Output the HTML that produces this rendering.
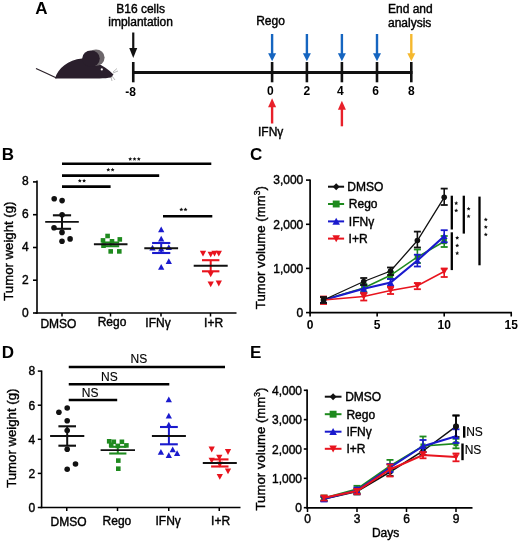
<!DOCTYPE html><html><head><meta charset="utf-8"><style>html,body{margin:0;padding:0;background:#fff;width:520px;height:542px;overflow:hidden}svg{display:block;font-family:"Liberation Sans", sans-serif;will-change:transform}</style></head><body>
<svg width="520" height="542" viewBox="0 0 520 542">
<rect width="520" height="542" fill="#fff"/>
<text x="35.3" y="13.9" font-size="17" text-anchor="start" font-weight="bold" fill="#000"  >A</text>
<g>
<path d="M36,68.5 Q46,73 56.5,78" stroke="#2a2028" stroke-width="1.3" fill="none"/>
<path d="M55,78.6 C58,68 68,60 82,58.5 C88,58 93,60 97,63 C103,66 108,69 113.5,74.5 L111,77.5 C105,78.6 95,78.6 85,78.6 Z" fill="#2a1f2c"/>
<ellipse cx="96" cy="57.6" rx="8.6" ry="8.2" fill="#6d676b"/>
<ellipse cx="91" cy="58.6" rx="8.8" ry="8.2" fill="#2a1f2c"/>
<circle cx="101.8" cy="69.4" r="1.1" fill="#fff"/>
<path d="M113,72 L117,68.5 M113,73 L118,71 M112,76 L115,80 M111,77 L112,81" stroke="#8a8a8a" stroke-width="0.6"/>
</g>
<text x="140.6" y="13.2" font-size="12" text-anchor="middle" font-weight="normal" fill="#000" stroke="#000" stroke-width="0.4" >B16 cells</text>
<text x="140.6" y="26" font-size="12" text-anchor="middle" font-weight="normal" fill="#000" stroke="#000" stroke-width="0.4" >implantation</text>
<line x1="133.25" y1="32.5" x2="133.25" y2="49" stroke="#111" stroke-width="2.2"/>
<polygon points="129.25,48 137.25,48 133.25,58" fill="#111"/>
<line x1="133.25" y1="72.5" x2="412.5" y2="72.5" stroke="#111" stroke-width="3"/>
<line x1="133.25" y1="62" x2="133.25" y2="82.3" stroke="#111" stroke-width="2.6"/>
<line x1="272.1" y1="62" x2="272.1" y2="82.3" stroke="#111" stroke-width="2.6"/>
<line x1="306.9" y1="62" x2="306.9" y2="82.3" stroke="#111" stroke-width="2.6"/>
<line x1="341.9" y1="62" x2="341.9" y2="82.3" stroke="#111" stroke-width="2.6"/>
<line x1="377.0" y1="62" x2="377.0" y2="82.3" stroke="#111" stroke-width="2.6"/>
<line x1="411.3" y1="62" x2="411.3" y2="82.3" stroke="#111" stroke-width="2.6"/>
<text x="130.6" y="96" font-size="12" text-anchor="middle" font-weight="bold" fill="#000"  >-8</text>
<text x="270.40000000000003" y="95.2" font-size="12" text-anchor="middle" font-weight="bold" fill="#000"  >0</text>
<text x="306.9" y="95.2" font-size="12" text-anchor="middle" font-weight="bold" fill="#000"  >2</text>
<text x="340.29999999999995" y="95.2" font-size="12" text-anchor="middle" font-weight="bold" fill="#000"  >4</text>
<text x="375.5" y="95.2" font-size="12" text-anchor="middle" font-weight="bold" fill="#000"  >6</text>
<text x="411.3" y="95.2" font-size="12" text-anchor="middle" font-weight="bold" fill="#000"  >8</text>
<text x="256.2" y="25.2" font-size="12" text-anchor="start" font-weight="normal" fill="#000" stroke="#000" stroke-width="0.4" >Rego</text>
<line x1="272.1" y1="34" x2="272.1" y2="54.2" stroke="#1565c0" stroke-width="2.4"/>
<polygon points="268.1,53.2 276.1,53.2 272.1,61.2" fill="#1565c0"/>
<line x1="306.9" y1="34" x2="306.9" y2="54.2" stroke="#1565c0" stroke-width="2.4"/>
<polygon points="302.9,53.2 310.9,53.2 306.9,61.2" fill="#1565c0"/>
<line x1="341.9" y1="34" x2="341.9" y2="54.2" stroke="#1565c0" stroke-width="2.4"/>
<polygon points="337.9,53.2 345.9,53.2 341.9,61.2" fill="#1565c0"/>
<line x1="377.0" y1="34" x2="377.0" y2="54.2" stroke="#1565c0" stroke-width="2.4"/>
<polygon points="373.0,53.2 381.0,53.2 377.0,61.2" fill="#1565c0"/>
<line x1="411.3" y1="34" x2="411.3" y2="54.2" stroke="#f5b82e" stroke-width="2.4"/>
<polygon points="407.3,53.2 415.3,53.2 411.3,61.2" fill="#f5b82e"/>
<text x="388" y="13.3" font-size="12" text-anchor="start" font-weight="normal" fill="#000" stroke="#000" stroke-width="0.4" >End and</text>
<text x="388" y="26.5" font-size="12" text-anchor="start" font-weight="normal" fill="#000" stroke="#000" stroke-width="0.4" >analysis</text>
<line x1="272.1" y1="106.3" x2="272.1" y2="123.5" stroke="#e8202a" stroke-width="2.4"/>
<polygon points="268.1,107.3 276.1,107.3 272.1,98.3" fill="#e8202a"/>
<line x1="341.9" y1="108.8" x2="341.9" y2="126.3" stroke="#e8202a" stroke-width="2.4"/>
<polygon points="337.9,109.8 345.9,109.8 341.9,100.8" fill="#e8202a"/>
<text x="258" y="135.8" font-size="12" text-anchor="start" font-weight="normal" fill="#000" stroke="#000" stroke-width="0.4" >IFN&#947;</text>
<text x="1.7" y="160" font-size="17" text-anchor="start" font-weight="bold" fill="#000"  >B</text>
<line x1="37" y1="180.5" x2="37" y2="313.7" stroke="#000" stroke-width="1.6"/>
<line x1="35.5" y1="313" x2="236.5" y2="313" stroke="#000" stroke-width="1.6"/>
<line x1="33" y1="181.9" x2="37" y2="181.9" stroke="#000" stroke-width="1.6"/>
<text x="28.8" y="185.3" font-size="12" text-anchor="end" font-weight="normal" fill="#000" stroke="#000" stroke-width="0.4" >8</text>
<line x1="33" y1="214.7" x2="37" y2="214.7" stroke="#000" stroke-width="1.6"/>
<text x="28.8" y="218.3" font-size="12" text-anchor="end" font-weight="normal" fill="#000" stroke="#000" stroke-width="0.4" >6</text>
<line x1="33" y1="247.5" x2="37" y2="247.5" stroke="#000" stroke-width="1.6"/>
<text x="28.8" y="251.3" font-size="12" text-anchor="end" font-weight="normal" fill="#000" stroke="#000" stroke-width="0.4" >4</text>
<line x1="33" y1="280.2" x2="37" y2="280.2" stroke="#000" stroke-width="1.6"/>
<text x="28.8" y="284.3" font-size="12" text-anchor="end" font-weight="normal" fill="#000" stroke="#000" stroke-width="0.4" >2</text>
<line x1="33" y1="313" x2="37" y2="313" stroke="#000" stroke-width="1.6"/>
<text x="28.8" y="317.3" font-size="12" text-anchor="end" font-weight="normal" fill="#000" stroke="#000" stroke-width="0.4" >0</text>
<line x1="62" y1="313" x2="62" y2="316.5" stroke="#000" stroke-width="1.5"/>
<line x1="110.5" y1="313" x2="110.5" y2="316.5" stroke="#000" stroke-width="1.5"/>
<line x1="161" y1="313" x2="161" y2="316.5" stroke="#000" stroke-width="1.5"/>
<line x1="210.5" y1="313" x2="210.5" y2="316.5" stroke="#000" stroke-width="1.5"/>
<text x="58.4" y="327.6" font-size="12" text-anchor="middle" font-weight="normal" fill="#000" stroke="#000" stroke-width="0.4" >DMSO</text>
<text x="112" y="326.3" font-size="12" text-anchor="middle" font-weight="normal" fill="#000" stroke="#000" stroke-width="0.4" >Rego</text>
<text x="158" y="326.9" font-size="12" text-anchor="middle" font-weight="normal" fill="#000" stroke="#000" stroke-width="0.4" >IFN&#947;</text>
<text x="213.6" y="327.1" font-size="12" text-anchor="middle" font-weight="normal" fill="#000" stroke="#000" stroke-width="0.4" >I+R</text>
<text transform="translate(12.9,251.1) rotate(-90)" font-size="13.2" text-anchor="middle" fill="#000" stroke="#000" stroke-width="0.4">Tumor weight (g)</text>
<line x1="62" y1="163.8" x2="211.3" y2="163.8" stroke="#000" stroke-width="2.6"/>
<line x1="62" y1="175.6" x2="159.2" y2="175.6" stroke="#000" stroke-width="2.6"/>
<line x1="62" y1="186.6" x2="110.6" y2="186.6" stroke="#000" stroke-width="2.6"/>
<line x1="163" y1="216.2" x2="212.3" y2="216.2" stroke="#000" stroke-width="2.6"/>
<polygon points="130.20,156.90 130.79,158.19 132.20,158.35 131.15,159.31 131.43,160.70 130.20,160.00 128.97,160.70 129.25,159.31 128.20,158.35 129.61,158.19" fill="#111"/>
<polygon points="134.50,156.90 135.09,158.19 136.50,158.35 135.45,159.31 135.73,160.70 134.50,160.00 133.27,160.70 133.55,159.31 132.50,158.35 133.91,158.19" fill="#111"/>
<polygon points="138.80,156.90 139.39,158.19 140.80,158.35 139.75,159.31 140.03,160.70 138.80,160.00 137.57,160.70 137.85,159.31 136.80,158.35 138.21,158.19" fill="#111"/>
<polygon points="108.30,167.70 108.89,168.99 110.30,169.15 109.25,170.11 109.53,171.50 108.30,170.80 107.07,171.50 107.35,170.11 106.30,169.15 107.71,168.99" fill="#111"/>
<polygon points="112.60,167.70 113.19,168.99 114.60,169.15 113.55,170.11 113.83,171.50 112.60,170.80 111.37,171.50 111.65,170.11 110.60,169.15 112.01,168.99" fill="#111"/>
<polygon points="79.80,178.70 80.39,179.99 81.80,180.15 80.75,181.11 81.03,182.50 79.80,181.80 78.57,182.50 78.85,181.11 77.80,180.15 79.21,179.99" fill="#111"/>
<polygon points="84.10,178.70 84.69,179.99 86.10,180.15 85.05,181.11 85.33,182.50 84.10,181.80 82.87,182.50 83.15,181.11 82.10,180.15 83.51,179.99" fill="#111"/>
<polygon points="181.30,207.50 181.89,208.79 183.30,208.95 182.25,209.91 182.53,211.30 181.30,210.60 180.07,211.30 180.35,209.91 179.30,208.95 180.71,208.79" fill="#111"/>
<polygon points="185.50,207.50 186.09,208.79 187.50,208.95 186.45,209.91 186.73,211.30 185.50,210.60 184.27,211.30 184.55,209.91 183.50,208.95 184.91,208.79" fill="#111"/>
<circle cx="54.2" cy="198.7" r="2.80" fill="#111"/>
<circle cx="62.1" cy="200.6" r="2.80" fill="#111"/>
<circle cx="62.1" cy="214.8" r="2.80" fill="#111"/>
<circle cx="54" cy="227.7" r="2.80" fill="#111"/>
<circle cx="62" cy="232.4" r="2.80" fill="#111"/>
<circle cx="62" cy="241.3" r="2.80" fill="#111"/>
<circle cx="70.1" cy="238.9" r="2.80" fill="#111"/>
<line x1="62" y1="215.3" x2="62" y2="228.8" stroke="#111" stroke-width="2.0"/>
<line x1="52.9" y1="215.3" x2="71.1" y2="215.3" stroke="#111" stroke-width="2.1"/>
<line x1="52.9" y1="228.8" x2="71.1" y2="228.8" stroke="#111" stroke-width="2.1"/>
<line x1="45.2" y1="221.9" x2="78.8" y2="221.9" stroke="#111" stroke-width="1.9"/>
<rect x="105.30" y="233.70" width="4.60" height="4.60" fill="#1e8a1e"/>
<rect x="100.70" y="238.10" width="4.60" height="4.60" fill="#1e8a1e"/>
<rect x="117.50" y="237.10" width="4.60" height="4.60" fill="#1e8a1e"/>
<rect x="109.70" y="239.00" width="4.60" height="4.60" fill="#1e8a1e"/>
<rect x="101.20" y="243.40" width="4.60" height="4.60" fill="#1e8a1e"/>
<rect x="108.40" y="249.10" width="4.60" height="4.60" fill="#1e8a1e"/>
<rect x="117.00" y="249.10" width="4.60" height="4.60" fill="#1e8a1e"/>
<line x1="110.7" y1="242.5" x2="110.7" y2="246.2" stroke="#1e8a1e" stroke-width="2.0"/>
<line x1="102.2" y1="242.5" x2="119.2" y2="242.5" stroke="#1e8a1e" stroke-width="2.1"/>
<line x1="102.2" y1="246.2" x2="119.2" y2="246.2" stroke="#1e8a1e" stroke-width="2.1"/>
<line x1="93.9" y1="244.2" x2="127.5" y2="244.2" stroke="#111" stroke-width="1.9"/>
<polygon points="158.06,232.29 164.34,232.29 161.20,226.51" fill="#1a1acd"/>
<polygon points="158.06,241.44 164.34,241.44 161.20,235.66" fill="#1a1acd"/>
<polygon points="149.36,250.59 155.64,250.59 152.50,244.81" fill="#1a1acd"/>
<polygon points="158.06,251.49 164.34,251.49 161.20,245.71" fill="#1a1acd"/>
<polygon points="165.66,250.09 171.94,250.09 168.80,244.31" fill="#1a1acd"/>
<polygon points="165.66,263.99 171.94,263.99 168.80,258.21" fill="#1a1acd"/>
<polygon points="158.06,269.79 164.34,269.79 161.20,264.01" fill="#1a1acd"/>
<line x1="161.2" y1="243" x2="161.2" y2="253" stroke="#1a1acd" stroke-width="2.0"/>
<line x1="152.1" y1="243" x2="170.29999999999998" y2="243" stroke="#1a1acd" stroke-width="2.1"/>
<line x1="152.1" y1="253" x2="170.29999999999998" y2="253" stroke="#1a1acd" stroke-width="2.1"/>
<line x1="144.29999999999998" y1="248.2" x2="178.1" y2="248.2" stroke="#111" stroke-width="1.9"/>
<polygon points="199.86,250.81 206.14,250.81 203.00,256.59" fill="#e8141e"/>
<polygon points="207.56,251.71 213.84,251.71 210.70,257.49" fill="#e8141e"/>
<polygon points="211.36,250.81 217.64,250.81 214.50,256.59" fill="#e8141e"/>
<polygon points="215.66,250.81 221.94,250.81 218.80,256.59" fill="#e8141e"/>
<polygon points="207.56,271.41 213.84,271.41 210.70,277.19" fill="#e8141e"/>
<polygon points="207.56,281.51 213.84,281.51 210.70,287.29" fill="#e8141e"/>
<polygon points="215.66,280.61 221.94,280.61 218.80,286.39" fill="#e8141e"/>
<line x1="210.7" y1="260.2" x2="210.7" y2="271.3" stroke="#e8141e" stroke-width="2.0"/>
<line x1="202.0" y1="260.2" x2="219.39999999999998" y2="260.2" stroke="#e8141e" stroke-width="2.1"/>
<line x1="202.0" y1="271.3" x2="219.39999999999998" y2="271.3" stroke="#e8141e" stroke-width="2.1"/>
<line x1="193.7" y1="265.7" x2="227.7" y2="265.7" stroke="#111" stroke-width="1.9"/>
<text x="250" y="160" font-size="17" text-anchor="start" font-weight="bold" fill="#000"  >C</text>
<line x1="310.1" y1="179.4" x2="310.1" y2="313.4" stroke="#000" stroke-width="1.7"/>
<line x1="309.3" y1="312.6" x2="512" y2="312.6" stroke="#000" stroke-width="1.7"/>
<line x1="306" y1="180.1" x2="310.1" y2="180.1" stroke="#000" stroke-width="1.6"/>
<text x="303.3" y="184.4" font-size="12" text-anchor="end" font-weight="normal" fill="#000" stroke="#000" stroke-width="0.4" >3,000</text>
<line x1="306" y1="224.3" x2="310.1" y2="224.3" stroke="#000" stroke-width="1.6"/>
<text x="303.3" y="228.60000000000002" font-size="12" text-anchor="end" font-weight="normal" fill="#000" stroke="#000" stroke-width="0.4" >2,000</text>
<line x1="306" y1="268.4" x2="310.1" y2="268.4" stroke="#000" stroke-width="1.6"/>
<text x="303.3" y="272.7" font-size="12" text-anchor="end" font-weight="normal" fill="#000" stroke="#000" stroke-width="0.4" >1,000</text>
<line x1="306" y1="312.6" x2="310.1" y2="312.6" stroke="#000" stroke-width="1.6"/>
<text x="303.3" y="316.90000000000003" font-size="12" text-anchor="end" font-weight="normal" fill="#000" stroke="#000" stroke-width="0.4" >0</text>
<line x1="310.1" y1="312.6" x2="310.1" y2="316.5" stroke="#000" stroke-width="1.6"/>
<text x="310.1" y="328.5" font-size="12" text-anchor="middle" font-weight="bold" fill="#000"  >0</text>
<line x1="377.15000000000003" y1="312.6" x2="377.15000000000003" y2="316.5" stroke="#000" stroke-width="1.6"/>
<text x="377.15000000000003" y="328.5" font-size="12" text-anchor="middle" font-weight="bold" fill="#000"  >5</text>
<line x1="444.20000000000005" y1="312.6" x2="444.20000000000005" y2="316.5" stroke="#000" stroke-width="1.6"/>
<text x="444.20000000000005" y="328.5" font-size="12" text-anchor="middle" font-weight="bold" fill="#000"  >10</text>
<line x1="511.25" y1="312.6" x2="511.25" y2="316.5" stroke="#000" stroke-width="1.6"/>
<text x="511.25" y="328.5" font-size="12" text-anchor="middle" font-weight="bold" fill="#000"  >15</text>
<text transform="translate(265.1,247.7) rotate(-90)" font-size="13.2" text-anchor="middle" fill="#000" stroke="#000" stroke-width="0.4">Tumor volume (mm<tspan font-size="8.5" dy="-5">3</tspan><tspan dy="5">)</tspan></text>
<line x1="328" y1="186.7" x2="344.1" y2="186.7" stroke="#111" stroke-width="2.0"/>
<polygon points="332.75,186.70 336.20,183.25 339.65,186.70 336.20,190.15" fill="#111"/>
<text x="347.3" y="191.0" font-size="12" text-anchor="start" font-weight="normal" fill="#000" stroke="#000" stroke-width="0.4" >DMSO</text>
<line x1="328" y1="204" x2="344.1" y2="204" stroke="#1e8a1e" stroke-width="2.0"/>
<rect x="332.75" y="200.55" width="6.90" height="6.90" fill="#1e8a1e"/>
<text x="348.8" y="208.3" font-size="12" text-anchor="start" font-weight="normal" fill="#000" stroke="#000" stroke-width="0.4" >Rego</text>
<line x1="328" y1="221.4" x2="344.1" y2="221.4" stroke="#1a1acd" stroke-width="2.0"/>
<polygon points="332.42,224.64 339.98,224.64 336.20,217.76" fill="#1a1acd"/>
<text x="348.8" y="225.70000000000002" font-size="12" text-anchor="start" font-weight="normal" fill="#000" stroke="#000" stroke-width="0.4" >IFN&#947;</text>
<line x1="328" y1="238.6" x2="344.1" y2="238.6" stroke="#e8141e" stroke-width="2.0"/>
<polygon points="332.42,235.36 339.98,235.36 336.20,242.24" fill="#e8141e"/>
<text x="348.6" y="242.9" font-size="12" text-anchor="start" font-weight="normal" fill="#000" stroke="#000" stroke-width="0.4" >I+R</text>
<polyline points="323.5,300.0 363.7,288.0 390.6,275.3 417.4,257.0 444.2,241.5" fill="none" stroke="#1e8a1e" stroke-width="1.5"/>
<line x1="323.51000000000005" y1="297" x2="323.51000000000005" y2="303" stroke="#1e8a1e" stroke-width="1.6"/>
<line x1="320.01000000000005" y1="297" x2="327.01000000000005" y2="297" stroke="#1e8a1e" stroke-width="1.8"/>
<line x1="320.01000000000005" y1="303" x2="327.01000000000005" y2="303" stroke="#1e8a1e" stroke-width="1.8"/>
<rect x="320.87" y="297.36" width="5.29" height="5.29" fill="#1e8a1e"/>
<line x1="363.74" y1="284" x2="363.74" y2="292" stroke="#1e8a1e" stroke-width="1.6"/>
<line x1="360.24" y1="284" x2="367.24" y2="284" stroke="#1e8a1e" stroke-width="1.8"/>
<line x1="360.24" y1="292" x2="367.24" y2="292" stroke="#1e8a1e" stroke-width="1.8"/>
<rect x="361.10" y="285.36" width="5.29" height="5.29" fill="#1e8a1e"/>
<line x1="390.56000000000006" y1="272" x2="390.56000000000006" y2="279" stroke="#1e8a1e" stroke-width="1.6"/>
<line x1="387.06000000000006" y1="272" x2="394.06000000000006" y2="272" stroke="#1e8a1e" stroke-width="1.8"/>
<line x1="387.06000000000006" y1="279" x2="394.06000000000006" y2="279" stroke="#1e8a1e" stroke-width="1.8"/>
<rect x="387.92" y="272.66" width="5.29" height="5.29" fill="#1e8a1e"/>
<line x1="417.38" y1="249.5" x2="417.38" y2="263" stroke="#1e8a1e" stroke-width="1.6"/>
<line x1="413.88" y1="249.5" x2="420.88" y2="249.5" stroke="#1e8a1e" stroke-width="1.8"/>
<line x1="413.88" y1="263" x2="420.88" y2="263" stroke="#1e8a1e" stroke-width="1.8"/>
<rect x="414.74" y="254.35" width="5.29" height="5.29" fill="#1e8a1e"/>
<line x1="444.20000000000005" y1="236" x2="444.20000000000005" y2="247" stroke="#1e8a1e" stroke-width="1.6"/>
<line x1="440.70000000000005" y1="236" x2="447.70000000000005" y2="236" stroke="#1e8a1e" stroke-width="1.8"/>
<line x1="440.70000000000005" y1="247" x2="447.70000000000005" y2="247" stroke="#1e8a1e" stroke-width="1.8"/>
<rect x="441.56" y="238.85" width="5.29" height="5.29" fill="#1e8a1e"/>
<polyline points="323.5,300.0 363.7,288.8 390.6,282.5 417.4,260.5 444.2,236.2" fill="none" stroke="#1a1acd" stroke-width="2.2"/>
<line x1="323.51000000000005" y1="297" x2="323.51000000000005" y2="303" stroke="#1a1acd" stroke-width="1.6"/>
<line x1="320.01000000000005" y1="297" x2="327.01000000000005" y2="297" stroke="#1a1acd" stroke-width="1.8"/>
<line x1="320.01000000000005" y1="303" x2="327.01000000000005" y2="303" stroke="#1a1acd" stroke-width="1.8"/>
<polygon points="320.15,302.88 326.87,302.88 323.51,296.72" fill="#1a1acd"/>
<line x1="363.74" y1="285" x2="363.74" y2="293" stroke="#1a1acd" stroke-width="1.6"/>
<line x1="360.24" y1="285" x2="367.24" y2="285" stroke="#1a1acd" stroke-width="1.8"/>
<line x1="360.24" y1="293" x2="367.24" y2="293" stroke="#1a1acd" stroke-width="1.8"/>
<polygon points="360.38,291.68 367.10,291.68 363.74,285.52" fill="#1a1acd"/>
<line x1="390.56000000000006" y1="279" x2="390.56000000000006" y2="286" stroke="#1a1acd" stroke-width="1.6"/>
<line x1="387.06000000000006" y1="279" x2="394.06000000000006" y2="279" stroke="#1a1acd" stroke-width="1.8"/>
<line x1="387.06000000000006" y1="286" x2="394.06000000000006" y2="286" stroke="#1a1acd" stroke-width="1.8"/>
<polygon points="387.20,285.38 393.92,285.38 390.56,279.22" fill="#1a1acd"/>
<line x1="417.38" y1="254.7" x2="417.38" y2="266.5" stroke="#1a1acd" stroke-width="1.6"/>
<line x1="413.88" y1="254.7" x2="420.88" y2="254.7" stroke="#1a1acd" stroke-width="1.8"/>
<line x1="413.88" y1="266.5" x2="420.88" y2="266.5" stroke="#1a1acd" stroke-width="1.8"/>
<polygon points="414.02,263.38 420.74,263.38 417.38,257.22" fill="#1a1acd"/>
<line x1="444.20000000000005" y1="230.2" x2="444.20000000000005" y2="242.3" stroke="#1a1acd" stroke-width="1.6"/>
<line x1="440.70000000000005" y1="230.2" x2="447.70000000000005" y2="230.2" stroke="#1a1acd" stroke-width="1.8"/>
<line x1="440.70000000000005" y1="242.3" x2="447.70000000000005" y2="242.3" stroke="#1a1acd" stroke-width="1.8"/>
<polygon points="440.84,239.08 447.56,239.08 444.20,232.92" fill="#1a1acd"/>
<polyline points="323.5,300.0 363.7,296.6 390.6,290.5 417.4,285.7 444.2,271.5" fill="none" stroke="#e8141e" stroke-width="1.5"/>
<line x1="323.51000000000005" y1="296.5" x2="323.51000000000005" y2="304" stroke="#e8141e" stroke-width="1.6"/>
<line x1="320.01000000000005" y1="296.5" x2="327.01000000000005" y2="296.5" stroke="#e8141e" stroke-width="1.8"/>
<line x1="320.01000000000005" y1="304" x2="327.01000000000005" y2="304" stroke="#e8141e" stroke-width="1.8"/>
<polygon points="320.15,297.12 326.87,297.12 323.51,303.28" fill="#e8141e"/>
<line x1="363.74" y1="293" x2="363.74" y2="300.5" stroke="#e8141e" stroke-width="1.6"/>
<line x1="360.24" y1="293" x2="367.24" y2="293" stroke="#e8141e" stroke-width="1.8"/>
<line x1="360.24" y1="300.5" x2="367.24" y2="300.5" stroke="#e8141e" stroke-width="1.8"/>
<polygon points="360.38,293.72 367.10,293.72 363.74,299.88" fill="#e8141e"/>
<line x1="390.56000000000006" y1="287" x2="390.56000000000006" y2="294" stroke="#e8141e" stroke-width="1.6"/>
<line x1="387.06000000000006" y1="287" x2="394.06000000000006" y2="287" stroke="#e8141e" stroke-width="1.8"/>
<line x1="387.06000000000006" y1="294" x2="394.06000000000006" y2="294" stroke="#e8141e" stroke-width="1.8"/>
<polygon points="387.20,287.62 393.92,287.62 390.56,293.78" fill="#e8141e"/>
<line x1="417.38" y1="283" x2="417.38" y2="289.2" stroke="#e8141e" stroke-width="1.6"/>
<line x1="413.88" y1="283" x2="420.88" y2="283" stroke="#e8141e" stroke-width="1.8"/>
<line x1="413.88" y1="289.2" x2="420.88" y2="289.2" stroke="#e8141e" stroke-width="1.8"/>
<polygon points="414.02,282.82 420.74,282.82 417.38,288.98" fill="#e8141e"/>
<line x1="444.20000000000005" y1="268.5" x2="444.20000000000005" y2="277" stroke="#e8141e" stroke-width="1.6"/>
<line x1="440.70000000000005" y1="268.5" x2="447.70000000000005" y2="268.5" stroke="#e8141e" stroke-width="1.8"/>
<line x1="440.70000000000005" y1="277" x2="447.70000000000005" y2="277" stroke="#e8141e" stroke-width="1.8"/>
<polygon points="440.84,268.62 447.56,268.62 444.20,274.78" fill="#e8141e"/>
<polyline points="323.5,300.0 363.7,281.5 390.6,271.0 417.4,240.5 444.2,197.3" fill="none" stroke="#111" stroke-width="1.3"/>
<line x1="323.51000000000005" y1="297" x2="323.51000000000005" y2="303" stroke="#111" stroke-width="1.6"/>
<line x1="320.01000000000005" y1="297" x2="327.01000000000005" y2="297" stroke="#111" stroke-width="1.8"/>
<line x1="320.01000000000005" y1="303" x2="327.01000000000005" y2="303" stroke="#111" stroke-width="1.8"/>
<circle cx="323.51000000000005" cy="300" r="2.80" fill="#111"/>
<line x1="363.74" y1="278" x2="363.74" y2="285" stroke="#111" stroke-width="1.6"/>
<line x1="360.24" y1="278" x2="367.24" y2="278" stroke="#111" stroke-width="1.8"/>
<line x1="360.24" y1="285" x2="367.24" y2="285" stroke="#111" stroke-width="1.8"/>
<circle cx="363.74" cy="281.5" r="2.80" fill="#111"/>
<line x1="390.56000000000006" y1="267.5" x2="390.56000000000006" y2="275" stroke="#111" stroke-width="1.6"/>
<line x1="387.06000000000006" y1="267.5" x2="394.06000000000006" y2="267.5" stroke="#111" stroke-width="1.8"/>
<line x1="387.06000000000006" y1="275" x2="394.06000000000006" y2="275" stroke="#111" stroke-width="1.8"/>
<circle cx="390.56000000000006" cy="271" r="2.80" fill="#111"/>
<line x1="417.38" y1="231.6" x2="417.38" y2="247.5" stroke="#111" stroke-width="1.6"/>
<line x1="413.88" y1="231.6" x2="420.88" y2="231.6" stroke="#111" stroke-width="1.8"/>
<line x1="413.88" y1="247.5" x2="420.88" y2="247.5" stroke="#111" stroke-width="1.8"/>
<circle cx="417.38" cy="240.5" r="2.80" fill="#111"/>
<line x1="444.20000000000005" y1="188.6" x2="444.20000000000005" y2="205" stroke="#111" stroke-width="1.6"/>
<line x1="440.70000000000005" y1="188.6" x2="447.70000000000005" y2="188.6" stroke="#111" stroke-width="1.8"/>
<line x1="440.70000000000005" y1="205" x2="447.70000000000005" y2="205" stroke="#111" stroke-width="1.8"/>
<circle cx="444.20000000000005" cy="197.3" r="2.80" fill="#111"/>
<line x1="451.8" y1="195.7" x2="451.8" y2="229.5" stroke="#000" stroke-width="2.3"/>
<line x1="451.8" y1="232.3" x2="451.8" y2="270.1" stroke="#000" stroke-width="2.3"/>
<line x1="463.8" y1="195.7" x2="463.8" y2="233.6" stroke="#000" stroke-width="2.3"/>
<line x1="479.5" y1="196.6" x2="479.5" y2="265.3" stroke="#000" stroke-width="2.3"/>
<polygon points="456.20,201.10 456.79,202.39 458.20,202.55 457.15,203.51 457.43,204.90 456.20,204.20 454.97,204.90 455.25,203.51 454.20,202.55 455.61,202.39" fill="#111"/>
<polygon points="456.20,208.50 456.79,209.79 458.20,209.95 457.15,210.91 457.43,212.30 456.20,211.60 454.97,212.30 455.25,210.91 454.20,209.95 455.61,209.79" fill="#111"/>
<polygon points="457.20,235.80 457.79,237.09 459.20,237.25 458.15,238.21 458.43,239.60 457.20,238.90 455.97,239.60 456.25,238.21 455.20,237.25 456.61,237.09" fill="#111"/>
<polygon points="457.20,243.50 457.79,244.79 459.20,244.95 458.15,245.91 458.43,247.30 457.20,246.60 455.97,247.30 456.25,245.91 455.20,244.95 456.61,244.79" fill="#111"/>
<polygon points="457.20,251.10 457.79,252.39 459.20,252.55 458.15,253.51 458.43,254.90 457.20,254.20 455.97,254.90 456.25,253.51 455.20,252.55 456.61,252.39" fill="#111"/>
<polygon points="468.60,206.70 469.19,207.99 470.60,208.15 469.55,209.11 469.83,210.50 468.60,209.80 467.37,210.50 467.65,209.11 466.60,208.15 468.01,207.99" fill="#111"/>
<polygon points="468.60,214.20 469.19,215.49 470.60,215.65 469.55,216.61 469.83,218.00 468.60,217.30 467.37,218.00 467.65,216.61 466.60,215.65 468.01,215.49" fill="#111"/>
<polygon points="485.80,217.50 486.39,218.79 487.80,218.95 486.75,219.91 487.03,221.30 485.80,220.60 484.57,221.30 484.85,219.91 483.80,218.95 485.21,218.79" fill="#111"/>
<polygon points="485.80,225.00 486.39,226.29 487.80,226.45 486.75,227.41 487.03,228.80 485.80,228.10 484.57,228.80 484.85,227.41 483.80,226.45 485.21,226.29" fill="#111"/>
<polygon points="485.80,232.50 486.39,233.79 487.80,233.95 486.75,234.91 487.03,236.30 485.80,235.60 484.57,236.30 484.85,234.91 483.80,233.95 485.21,233.79" fill="#111"/>
<text x="1.7" y="357.6" font-size="17" text-anchor="start" font-weight="bold" fill="#000"  >D</text>
<line x1="41.6" y1="370.5" x2="41.6" y2="508.2" stroke="#000" stroke-width="1.6"/>
<line x1="40.5" y1="507.5" x2="240.5" y2="507.5" stroke="#000" stroke-width="1.6"/>
<line x1="37.8" y1="371.1" x2="41.6" y2="371.1" stroke="#000" stroke-width="1.5"/>
<text x="35.2" y="375.40000000000003" font-size="12" text-anchor="end" font-weight="normal" fill="#000" stroke="#000" stroke-width="0.4" >8</text>
<line x1="37.8" y1="405.2" x2="41.6" y2="405.2" stroke="#000" stroke-width="1.5"/>
<text x="35.2" y="409.5" font-size="12" text-anchor="end" font-weight="normal" fill="#000" stroke="#000" stroke-width="0.4" >6</text>
<line x1="37.8" y1="439.3" x2="41.6" y2="439.3" stroke="#000" stroke-width="1.5"/>
<text x="35.2" y="443.6" font-size="12" text-anchor="end" font-weight="normal" fill="#000" stroke="#000" stroke-width="0.4" >4</text>
<line x1="37.8" y1="473.4" x2="41.6" y2="473.4" stroke="#000" stroke-width="1.5"/>
<text x="35.2" y="477.7" font-size="12" text-anchor="end" font-weight="normal" fill="#000" stroke="#000" stroke-width="0.4" >2</text>
<line x1="37.8" y1="507.5" x2="41.6" y2="507.5" stroke="#000" stroke-width="1.5"/>
<text x="35.2" y="511.8" font-size="12" text-anchor="end" font-weight="normal" fill="#000" stroke="#000" stroke-width="0.4" >0</text>
<line x1="66.75" y1="507.5" x2="66.75" y2="511" stroke="#000" stroke-width="1.5"/>
<line x1="117.5" y1="507.5" x2="117.5" y2="511" stroke="#000" stroke-width="1.5"/>
<line x1="168.75" y1="507.5" x2="168.75" y2="511" stroke="#000" stroke-width="1.5"/>
<line x1="219.25" y1="507.5" x2="219.25" y2="511" stroke="#000" stroke-width="1.5"/>
<text x="68.5" y="526.1" font-size="12" text-anchor="middle" font-weight="normal" fill="#000" stroke="#000" stroke-width="0.4" >DMSO</text>
<text x="116.9" y="524.8" font-size="12" text-anchor="middle" font-weight="normal" fill="#000" stroke="#000" stroke-width="0.4" >Rego</text>
<text x="168.2" y="524.8" font-size="12" text-anchor="middle" font-weight="normal" fill="#000" stroke="#000" stroke-width="0.4" >IFN&#947;</text>
<text x="220.6" y="524.8" font-size="12" text-anchor="middle" font-weight="normal" fill="#000" stroke="#000" stroke-width="0.4" >I+R</text>
<text transform="translate(15.7,438.2) rotate(-90)" font-size="13.2" text-anchor="middle" fill="#000" stroke="#000" stroke-width="0.4">Tumor weight (g)</text>
<line x1="68.75" y1="367" x2="225" y2="367" stroke="#000" stroke-width="2.6"/>
<line x1="68.75" y1="384.3" x2="169.3" y2="384.3" stroke="#000" stroke-width="2.6"/>
<line x1="68.75" y1="400" x2="117.2" y2="400" stroke="#000" stroke-width="2.6"/>
<text x="138.9" y="363.1" font-size="12" text-anchor="middle" font-weight="normal" fill="#000" stroke="#000" stroke-width="0.15">NS</text>
<text x="109.4" y="380.8" font-size="12" text-anchor="middle" font-weight="normal" fill="#000" stroke="#000" stroke-width="0.15">NS</text>
<text x="90.1" y="397" font-size="12" text-anchor="middle" font-weight="normal" fill="#000" stroke="#000" stroke-width="0.15">NS</text>
<circle cx="67.2" cy="408" r="2.80" fill="#111"/>
<circle cx="58.9" cy="412.2" r="2.80" fill="#111"/>
<circle cx="67.2" cy="420.8" r="2.80" fill="#111"/>
<circle cx="67.2" cy="430.5" r="2.80" fill="#111"/>
<circle cx="67.2" cy="449.2" r="2.80" fill="#111"/>
<circle cx="75.5" cy="464" r="2.80" fill="#111"/>
<circle cx="67.2" cy="469.25" r="2.80" fill="#111"/>
<line x1="67.2" y1="426.3" x2="67.2" y2="445.7" stroke="#111" stroke-width="2.0"/>
<line x1="58.400000000000006" y1="426.3" x2="76.0" y2="426.3" stroke="#111" stroke-width="2.1"/>
<line x1="58.400000000000006" y1="445.7" x2="76.0" y2="445.7" stroke="#111" stroke-width="2.1"/>
<line x1="50.1" y1="436" x2="84.30000000000001" y2="436" stroke="#111" stroke-width="1.9"/>
<rect x="106.90" y="439.00" width="4.60" height="4.60" fill="#1e8a1e"/>
<rect x="111.50" y="439.50" width="4.60" height="4.60" fill="#1e8a1e"/>
<rect x="119.60" y="439.50" width="4.60" height="4.60" fill="#1e8a1e"/>
<rect x="108.90" y="442.50" width="4.60" height="4.60" fill="#1e8a1e"/>
<rect x="115.50" y="443.60" width="4.60" height="4.60" fill="#1e8a1e"/>
<rect x="124.10" y="443.10" width="4.60" height="4.60" fill="#1e8a1e"/>
<rect x="116.00" y="458.30" width="4.60" height="4.60" fill="#1e8a1e"/>
<rect x="116.00" y="466.40" width="4.60" height="4.60" fill="#1e8a1e"/>
<line x1="117.8" y1="446.8" x2="117.8" y2="453.5" stroke="#1e8a1e" stroke-width="2.0"/>
<line x1="109.2" y1="446.8" x2="126.39999999999999" y2="446.8" stroke="#1e8a1e" stroke-width="2.1"/>
<line x1="109.2" y1="453.5" x2="126.39999999999999" y2="453.5" stroke="#1e8a1e" stroke-width="2.1"/>
<line x1="100.6" y1="450.1" x2="135.0" y2="450.1" stroke="#111" stroke-width="1.9"/>
<polygon points="165.66,402.19 171.94,402.19 168.80,396.41" fill="#1a1acd"/>
<polygon points="165.66,418.59 171.94,418.59 168.80,412.81" fill="#1a1acd"/>
<polygon points="165.66,427.59 171.94,427.59 168.80,421.81" fill="#1a1acd"/>
<polygon points="157.76,454.69 164.04,454.69 160.90,448.91" fill="#1a1acd"/>
<polygon points="169.56,452.29 175.84,452.29 172.70,446.51" fill="#1a1acd"/>
<polygon points="173.96,455.99 180.24,455.99 177.10,450.21" fill="#1a1acd"/>
<polygon points="165.66,458.09 171.94,458.09 168.80,452.31" fill="#1a1acd"/>
<line x1="168.9" y1="427" x2="168.9" y2="444.3" stroke="#1a1acd" stroke-width="2.0"/>
<line x1="160.0" y1="427" x2="177.8" y2="427" stroke="#1a1acd" stroke-width="2.1"/>
<line x1="160.0" y1="444.3" x2="177.8" y2="444.3" stroke="#1a1acd" stroke-width="2.1"/>
<line x1="151.9" y1="436" x2="185.9" y2="436" stroke="#111" stroke-width="1.9"/>
<polygon points="208.56,446.61 214.84,446.61 211.70,452.39" fill="#e8141e"/>
<polygon points="224.86,449.11 231.14,449.11 228.00,454.89" fill="#e8141e"/>
<polygon points="216.16,454.71 222.44,454.71 219.30,460.49" fill="#e8141e"/>
<polygon points="208.56,457.71 214.84,457.71 211.70,463.49" fill="#e8141e"/>
<polygon points="216.66,461.81 222.94,461.81 219.80,467.59" fill="#e8141e"/>
<polygon points="224.86,468.41 231.14,468.41 228.00,474.19" fill="#e8141e"/>
<polygon points="216.66,474.01 222.94,474.01 219.80,479.79" fill="#e8141e"/>
<line x1="219.8" y1="459.4" x2="219.8" y2="466.5" stroke="#e8141e" stroke-width="2.0"/>
<line x1="211.10000000000002" y1="459.4" x2="228.5" y2="459.4" stroke="#e8141e" stroke-width="2.1"/>
<line x1="211.10000000000002" y1="466.5" x2="228.5" y2="466.5" stroke="#e8141e" stroke-width="2.1"/>
<line x1="202.8" y1="463" x2="236.8" y2="463" stroke="#111" stroke-width="1.9"/>
<text x="250.1" y="357.6" font-size="17" text-anchor="start" font-weight="bold" fill="#000"  >E</text>
<line x1="307.1" y1="389.6" x2="307.1" y2="508.5" stroke="#000" stroke-width="1.7"/>
<line x1="306.3" y1="507.8" x2="472.5" y2="507.8" stroke="#000" stroke-width="1.7"/>
<line x1="303.8" y1="390.3" x2="307.1" y2="390.3" stroke="#000" stroke-width="1.6"/>
<text x="302" y="394.90000000000003" font-size="12" text-anchor="end" font-weight="normal" fill="#000" stroke="#000" stroke-width="0.4" >4,000</text>
<line x1="303.8" y1="419.65" x2="307.1" y2="419.65" stroke="#000" stroke-width="1.6"/>
<text x="302" y="424.25" font-size="12" text-anchor="end" font-weight="normal" fill="#000" stroke="#000" stroke-width="0.4" >3,000</text>
<line x1="303.8" y1="449" x2="307.1" y2="449" stroke="#000" stroke-width="1.6"/>
<text x="302" y="453.6" font-size="12" text-anchor="end" font-weight="normal" fill="#000" stroke="#000" stroke-width="0.4" >2,000</text>
<line x1="303.8" y1="478.35" x2="307.1" y2="478.35" stroke="#000" stroke-width="1.6"/>
<text x="302" y="482.95000000000005" font-size="12" text-anchor="end" font-weight="normal" fill="#000" stroke="#000" stroke-width="0.4" >1,000</text>
<line x1="303.8" y1="507.7" x2="307.1" y2="507.7" stroke="#000" stroke-width="1.6"/>
<text x="302" y="512.3" font-size="12" text-anchor="end" font-weight="normal" fill="#000" stroke="#000" stroke-width="0.4" >0</text>
<line x1="307.5" y1="508" x2="307.5" y2="512" stroke="#000" stroke-width="1.5"/>
<text x="307.5" y="522.6" font-size="12" text-anchor="middle" font-weight="normal" fill="#000" stroke="#000" stroke-width="0.4" >0</text>
<line x1="357.0" y1="508" x2="357.0" y2="512" stroke="#000" stroke-width="1.5"/>
<text x="357.0" y="522.6" font-size="12" text-anchor="middle" font-weight="normal" fill="#000" stroke="#000" stroke-width="0.4" >3</text>
<line x1="406.5" y1="508" x2="406.5" y2="512" stroke="#000" stroke-width="1.5"/>
<text x="406.5" y="522.6" font-size="12" text-anchor="middle" font-weight="normal" fill="#000" stroke="#000" stroke-width="0.4" >6</text>
<line x1="456.0" y1="508" x2="456.0" y2="512" stroke="#000" stroke-width="1.5"/>
<text x="456.0" y="522.6" font-size="12" text-anchor="middle" font-weight="normal" fill="#000" stroke="#000" stroke-width="0.4" >9</text>
<text x="385.6" y="537" font-size="12" text-anchor="middle" font-weight="normal" fill="#000" stroke="#000" stroke-width="0.4" >Days</text>
<text transform="translate(265.1,449) rotate(-90)" font-size="13.2" text-anchor="middle" fill="#000" stroke="#000" stroke-width="0.4">Tumor volume (mm<tspan font-size="8.5" dy="-5">3</tspan><tspan dy="5">)</tspan></text>
<line x1="324.8" y1="396.7" x2="341.5" y2="396.7" stroke="#111" stroke-width="2.0"/>
<polygon points="329.65,396.70 333.10,393.25 336.55,396.70 333.10,400.15" fill="#111"/>
<text x="345.2" y="401.09999999999997" font-size="12" text-anchor="start" font-weight="normal" fill="#000" stroke="#000" stroke-width="0.4" >DMSO</text>
<line x1="324.8" y1="414.2" x2="341.5" y2="414.2" stroke="#1e8a1e" stroke-width="2.0"/>
<rect x="329.65" y="410.75" width="6.90" height="6.90" fill="#1e8a1e"/>
<text x="346.4" y="418.59999999999997" font-size="12" text-anchor="start" font-weight="normal" fill="#000" stroke="#000" stroke-width="0.4" >Rego</text>
<line x1="324.8" y1="431.7" x2="341.5" y2="431.7" stroke="#1a1acd" stroke-width="2.0"/>
<polygon points="329.32,434.94 336.88,434.94 333.10,428.06" fill="#1a1acd"/>
<text x="346.4" y="436.09999999999997" font-size="12" text-anchor="start" font-weight="normal" fill="#000" stroke="#000" stroke-width="0.4" >IFN&#947;</text>
<line x1="324.8" y1="448.8" x2="341.5" y2="448.8" stroke="#e8141e" stroke-width="2.0"/>
<polygon points="329.32,445.56 336.88,445.56 333.10,452.44" fill="#e8141e"/>
<text x="346.4" y="453.2" font-size="12" text-anchor="start" font-weight="normal" fill="#000" stroke="#000" stroke-width="0.4" >I+R</text>
<polyline points="324.0,499.0 357.0,491.5 390.0,472.0 423.0,451.0 456.0,426.4" fill="none" stroke="#111" stroke-width="1.5"/>
<line x1="324.0" y1="497" x2="324.0" y2="501" stroke="#111" stroke-width="1.6"/>
<line x1="320.5" y1="497" x2="327.5" y2="497" stroke="#111" stroke-width="1.8"/>
<line x1="320.5" y1="501" x2="327.5" y2="501" stroke="#111" stroke-width="1.8"/>
<circle cx="324.0" cy="499" r="2.80" fill="#111"/>
<line x1="357.0" y1="488.5" x2="357.0" y2="494.5" stroke="#111" stroke-width="1.6"/>
<line x1="353.5" y1="488.5" x2="360.5" y2="488.5" stroke="#111" stroke-width="1.8"/>
<line x1="353.5" y1="494.5" x2="360.5" y2="494.5" stroke="#111" stroke-width="1.8"/>
<circle cx="357.0" cy="491.5" r="2.80" fill="#111"/>
<line x1="390.0" y1="469" x2="390.0" y2="476" stroke="#111" stroke-width="1.6"/>
<line x1="386.5" y1="469" x2="393.5" y2="469" stroke="#111" stroke-width="1.8"/>
<line x1="386.5" y1="476" x2="393.5" y2="476" stroke="#111" stroke-width="1.8"/>
<circle cx="390.0" cy="472" r="2.80" fill="#111"/>
<line x1="423.0" y1="447.5" x2="423.0" y2="455" stroke="#111" stroke-width="1.6"/>
<line x1="419.5" y1="447.5" x2="426.5" y2="447.5" stroke="#111" stroke-width="1.8"/>
<line x1="419.5" y1="455" x2="426.5" y2="455" stroke="#111" stroke-width="1.8"/>
<circle cx="423.0" cy="451" r="2.80" fill="#111"/>
<line x1="456.0" y1="415.5" x2="456.0" y2="437" stroke="#111" stroke-width="1.6"/>
<line x1="452.5" y1="415.5" x2="459.5" y2="415.5" stroke="#111" stroke-width="1.8"/>
<line x1="452.5" y1="437" x2="459.5" y2="437" stroke="#111" stroke-width="1.8"/>
<circle cx="456.0" cy="426.4" r="2.80" fill="#111"/>
<polyline points="324.0,498.0 357.0,489.0 390.0,466.0 423.0,446.0 456.0,443.7" fill="none" stroke="#1e8a1e" stroke-width="1.7"/>
<line x1="324.0" y1="495.5" x2="324.0" y2="500.5" stroke="#1e8a1e" stroke-width="1.6"/>
<line x1="320.5" y1="495.5" x2="327.5" y2="495.5" stroke="#1e8a1e" stroke-width="1.8"/>
<line x1="320.5" y1="500.5" x2="327.5" y2="500.5" stroke="#1e8a1e" stroke-width="1.8"/>
<rect x="321.47" y="495.47" width="5.06" height="5.06" fill="#1e8a1e"/>
<line x1="357.0" y1="485.8" x2="357.0" y2="493" stroke="#1e8a1e" stroke-width="1.6"/>
<line x1="353.5" y1="485.8" x2="360.5" y2="485.8" stroke="#1e8a1e" stroke-width="1.8"/>
<line x1="353.5" y1="493" x2="360.5" y2="493" stroke="#1e8a1e" stroke-width="1.8"/>
<rect x="354.47" y="486.47" width="5.06" height="5.06" fill="#1e8a1e"/>
<line x1="390.0" y1="459.9" x2="390.0" y2="471" stroke="#1e8a1e" stroke-width="1.6"/>
<line x1="386.5" y1="459.9" x2="393.5" y2="459.9" stroke="#1e8a1e" stroke-width="1.8"/>
<line x1="386.5" y1="471" x2="393.5" y2="471" stroke="#1e8a1e" stroke-width="1.8"/>
<rect x="387.47" y="463.47" width="5.06" height="5.06" fill="#1e8a1e"/>
<line x1="423.0" y1="436.5" x2="423.0" y2="452" stroke="#1e8a1e" stroke-width="1.6"/>
<line x1="419.5" y1="436.5" x2="426.5" y2="436.5" stroke="#1e8a1e" stroke-width="1.8"/>
<line x1="419.5" y1="452" x2="426.5" y2="452" stroke="#1e8a1e" stroke-width="1.8"/>
<rect x="420.47" y="443.47" width="5.06" height="5.06" fill="#1e8a1e"/>
<line x1="456.0" y1="438.8" x2="456.0" y2="448.3" stroke="#1e8a1e" stroke-width="1.6"/>
<line x1="452.5" y1="438.8" x2="459.5" y2="438.8" stroke="#1e8a1e" stroke-width="1.8"/>
<line x1="452.5" y1="448.3" x2="459.5" y2="448.3" stroke="#1e8a1e" stroke-width="1.8"/>
<rect x="453.47" y="441.17" width="5.06" height="5.06" fill="#1e8a1e"/>
<polyline points="324.0,498.8 357.0,490.5 390.0,467.5 423.0,446.2 456.0,436.2" fill="none" stroke="#1a1acd" stroke-width="2.0"/>
<line x1="324.0" y1="496.5" x2="324.0" y2="501.5" stroke="#1a1acd" stroke-width="1.6"/>
<line x1="320.5" y1="496.5" x2="327.5" y2="496.5" stroke="#1a1acd" stroke-width="1.8"/>
<line x1="320.5" y1="501.5" x2="327.5" y2="501.5" stroke="#1a1acd" stroke-width="1.8"/>
<polygon points="320.78,501.56 327.22,501.56 324.00,495.64" fill="#1a1acd"/>
<line x1="357.0" y1="487.5" x2="357.0" y2="494" stroke="#1a1acd" stroke-width="1.6"/>
<line x1="353.5" y1="487.5" x2="360.5" y2="487.5" stroke="#1a1acd" stroke-width="1.8"/>
<line x1="353.5" y1="494" x2="360.5" y2="494" stroke="#1a1acd" stroke-width="1.8"/>
<polygon points="353.78,493.26 360.22,493.26 357.00,487.34" fill="#1a1acd"/>
<line x1="390.0" y1="464" x2="390.0" y2="472" stroke="#1a1acd" stroke-width="1.6"/>
<line x1="386.5" y1="464" x2="393.5" y2="464" stroke="#1a1acd" stroke-width="1.8"/>
<line x1="386.5" y1="472" x2="393.5" y2="472" stroke="#1a1acd" stroke-width="1.8"/>
<polygon points="386.78,470.26 393.22,470.26 390.00,464.34" fill="#1a1acd"/>
<line x1="423.0" y1="440" x2="423.0" y2="452" stroke="#1a1acd" stroke-width="1.6"/>
<line x1="419.5" y1="440" x2="426.5" y2="440" stroke="#1a1acd" stroke-width="1.8"/>
<line x1="419.5" y1="452" x2="426.5" y2="452" stroke="#1a1acd" stroke-width="1.8"/>
<polygon points="419.78,448.96 426.22,448.96 423.00,443.04" fill="#1a1acd"/>
<line x1="456.0" y1="429.3" x2="456.0" y2="443" stroke="#1a1acd" stroke-width="1.6"/>
<line x1="452.5" y1="429.3" x2="459.5" y2="429.3" stroke="#1a1acd" stroke-width="1.8"/>
<line x1="452.5" y1="443" x2="459.5" y2="443" stroke="#1a1acd" stroke-width="1.8"/>
<polygon points="452.78,438.96 459.22,438.96 456.00,433.04" fill="#1a1acd"/>
<polyline points="324.0,497.8 357.0,491.0 390.0,469.5 423.0,455.0 456.0,457.0" fill="none" stroke="#e8141e" stroke-width="2.0"/>
<line x1="324.0" y1="495.5" x2="324.0" y2="500.5" stroke="#e8141e" stroke-width="1.6"/>
<line x1="320.5" y1="495.5" x2="327.5" y2="495.5" stroke="#e8141e" stroke-width="1.8"/>
<line x1="320.5" y1="500.5" x2="327.5" y2="500.5" stroke="#e8141e" stroke-width="1.8"/>
<polygon points="320.78,495.04 327.22,495.04 324.00,500.96" fill="#e8141e"/>
<line x1="357.0" y1="488.8" x2="357.0" y2="494" stroke="#e8141e" stroke-width="1.6"/>
<line x1="353.5" y1="488.8" x2="360.5" y2="488.8" stroke="#e8141e" stroke-width="1.8"/>
<line x1="353.5" y1="494" x2="360.5" y2="494" stroke="#e8141e" stroke-width="1.8"/>
<polygon points="353.78,488.24 360.22,488.24 357.00,494.16" fill="#e8141e"/>
<line x1="390.0" y1="464.5" x2="390.0" y2="476.5" stroke="#e8141e" stroke-width="1.6"/>
<line x1="386.5" y1="464.5" x2="393.5" y2="464.5" stroke="#e8141e" stroke-width="1.8"/>
<line x1="386.5" y1="476.5" x2="393.5" y2="476.5" stroke="#e8141e" stroke-width="1.8"/>
<polygon points="386.78,466.74 393.22,466.74 390.00,472.66" fill="#e8141e"/>
<line x1="423.0" y1="452" x2="423.0" y2="458.3" stroke="#e8141e" stroke-width="1.6"/>
<line x1="419.5" y1="452" x2="426.5" y2="452" stroke="#e8141e" stroke-width="1.8"/>
<line x1="419.5" y1="458.3" x2="426.5" y2="458.3" stroke="#e8141e" stroke-width="1.8"/>
<polygon points="419.78,452.24 426.22,452.24 423.00,458.16" fill="#e8141e"/>
<line x1="456.0" y1="453.5" x2="456.0" y2="461.3" stroke="#e8141e" stroke-width="1.6"/>
<line x1="452.5" y1="453.5" x2="459.5" y2="453.5" stroke="#e8141e" stroke-width="1.8"/>
<line x1="452.5" y1="461.3" x2="459.5" y2="461.3" stroke="#e8141e" stroke-width="1.8"/>
<polygon points="452.78,454.24 459.22,454.24 456.00,460.16" fill="#e8141e"/>
<line x1="456.0" y1="415.5" x2="456.0" y2="437" stroke="#000" stroke-width="1.6"/>
<line x1="452.5" y1="415.5" x2="459.5" y2="415.5" stroke="#000" stroke-width="1.8"/>
<circle cx="456.0" cy="426.4" r="2.80" fill="#111"/>
<line x1="464.2" y1="426.2" x2="464.2" y2="437.7" stroke="#000" stroke-width="2.4"/>
<line x1="462.5" y1="443.5" x2="462.5" y2="460.2" stroke="#000" stroke-width="2.4"/>
<text x="466.2" y="435.6" font-size="12" text-anchor="start" font-weight="normal" fill="#000" stroke="#000" stroke-width="0.15">NS</text>
<text x="464.7" y="454.4" font-size="12" text-anchor="start" font-weight="normal" fill="#000" stroke="#000" stroke-width="0.15">NS</text>
</svg></body></html>
